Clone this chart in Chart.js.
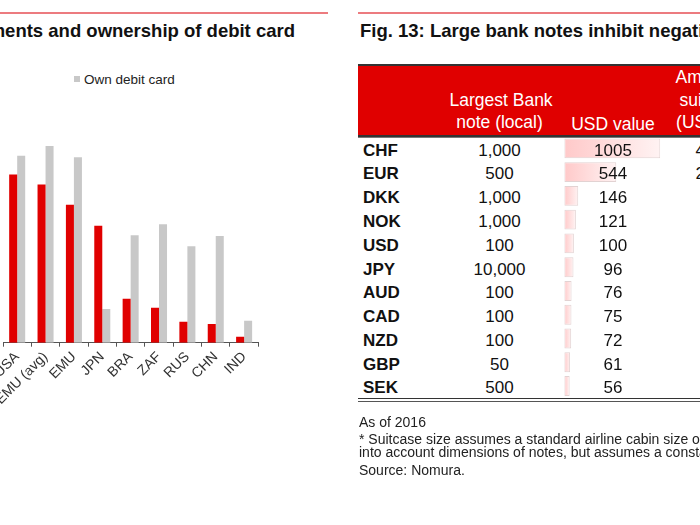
<!DOCTYPE html>
<html><head><meta charset="utf-8">
<script src="https://cdn.jsdelivr.net/npm/chart.js@4.4.1/dist/chart.umd.min.js"></script>
<style>
html,body{margin:0;padding:0;background:#fff;width:700px;height:525px;overflow:hidden;font-family:"Liberation Sans",Arial,sans-serif;}
.abs{position:absolute;white-space:nowrap;}
.hd{color:#fff;font-size:17.5px;line-height:23px;text-align:center;}
.cell{font-size:17px;line-height:24px;color:#111;}
.fn{font-size:14px;color:#222;line-height:16px;left:359px;}
</style></head><body>

<!-- left panel -->
<div class="abs" style="left:0;top:12px;width:328px;height:2px;background:#ec7b7f"></div>
<div class="abs" style="right:405px;top:20px;font:bold 18.5px 'Liberation Sans',Arial;line-height:22px;color:#111">Fig. 12: Card payments and ownership of debit card</div>
<div class="abs" style="left:74px;top:76px;width:6px;height:6px;background:#c8c8c8"></div>
<div class="abs" id="legGrey" style="left:84px;top:72px;font-size:13.5px;line-height:16px;color:#222"></div>
<div class="abs" style="left:-40px;top:0;width:370px;height:420px"><canvas id="barChart" width="370" height="420"></canvas></div>

<!-- right panel -->
<div class="abs" style="left:358px;top:12px;width:342px;height:2px;background:#ec7b7f"></div>
<div class="abs" style="left:360px;top:20px;font:bold 18.5px 'Liberation Sans',Arial;line-height:22px;color:#111">Fig. 13: Large bank notes inhibit negative rates</div>
<div class="abs" style="left:358px;top:64px;width:342px;height:2px;background:#333"></div>
<div class="abs" style="left:358px;top:66px;width:342px;height:68.5px;background:#e00000"></div>
<div class="abs" style="left:358px;top:134.5px;width:342px;height:2px;background:#333"></div>
<div class="abs" style="left:358px;top:137px;width:342px;height:1px;background:#777"></div>
<div id="hdr"></div>
<div id="rows"></div>
<div class="abs" style="left:560px;top:130px;width:110px;height:280px"><canvas id="dataBars" width="110" height="280"></canvas></div>
<div class="abs" style="left:358px;top:397.5px;width:342px;height:1.5px;background:#333"></div>
<div class="abs" style="left:358px;top:400.5px;width:342px;height:1px;background:#555"></div>
<div class="abs fn" style="top:413.7px">As of 2016</div>
<div class="abs fn" style="top:431px">* Suitcase size assumes a standard airline cabin size of 55x40x20cm. Does not take</div>
<div class="abs fn" style="top:443.7px">into account dimensions of notes, but assumes a constant note size.</div>
<div class="abs fn" style="top:462px">Source: Nomura.</div>

<script>
// ---------- Left chart data ----------
const countries = ["USA", "EMU (avg)", "EMU", "JPN", "BRA", "ZAF", "RUS", "CHN", "IND"];
const cardPayments = [76.5, 71.9, 62.7, 53.2, 20.0, 15.9, 9.5, 8.5, 2.7];
const ownDebitCard = [85.0, 89.4, 84.3, 15.3, 48.8, 53.8, 43.8, 48.5, 10.0];
const seriesNames = ["Card payments", "Own debit card"];

// ---------- Right table data ----------
const currencies = ["CHF", "EUR", "DKK", "NOK", "USD", "JPY", "AUD", "CAD", "NZD", "GBP", "SEK"];
const largestNote = ["1,000", "500", "1,000", "1,000", "100", "10,000", "100", "100", "100", "50", "500"];
const usdValue = [1005, 544, 146, 121, 100, 96, 76, 75, 72, 61, 56];
const suitcaseValue = ["40.2", "21.8", "5.8", "4.8", "4.0", "3.8", "3.0", "3.0", "2.9", "2.4", "2.2"];
const headerNote = ["Largest Bank", "note (local)"];
const headerUsd = "USD value";
const headerSuit = ["Amount in", "suitcase*", "(USD mn)"];

document.getElementById('legGrey').textContent = seriesNames[1];

// header and rows
(function(){
  let h = '';
  h += `<div class="abs hd" style="left:449.5px;width:100px;top:88.5px">${headerNote[0]}</div>`;
  h += `<div class="abs hd" style="left:449.5px;width:100px;top:111.2px">${headerNote[1]}</div>`;
  h += `<div class="abs hd" style="left:563px;width:100px;top:112.5px">${headerUsd}</div>`;
  const tops = [65.5, 88.5, 111.2];
  headerSuit.forEach((t,i)=>{ h += `<div class="abs hd" style="left:665px;width:100px;top:${tops[i]}px">${t}</div>`; });
  document.getElementById('hdr').innerHTML = h;
  let r = '';
  currencies.forEach((c,i)=>{
    const top = 150.7 + i*23.76 - 12;
    r += `<div class="abs cell" style="left:363px;top:${top}px;font-weight:bold">${c}</div>`;
    r += `<div class="abs cell" style="left:449.5px;width:100px;text-align:center;top:${top}px">${largestNote[i]}</div>`;
    r += `<div class="abs cell" style="left:563px;width:100px;text-align:center;top:${top}px;z-index:2">${usdValue[i]}</div>`;
    r += `<div class="abs cell" style="left:672px;width:80px;text-align:center;top:${top}px">${suitcaseValue[i]}</div>`;
  });
  document.getElementById('rows').innerHTML = r;
})();

// ---------- Left bar chart ----------
new Chart(document.getElementById('barChart'), {
  type: 'bar',
  data: {
    labels: countries,
    datasets: [
      { label: seriesNames[0], data: cardPayments, backgroundColor: '#e00000' },
      { label: seriesNames[1], data: ownDebitCard, backgroundColor: '#c8c8c8' }
    ]
  },
  options: {
    responsive: false,
    animation: false,
    layout: { padding: { left: 43, right: 71.7, top: 122.7, bottom: 0 } },
    datasets: { bar: { categoryPercentage: 0.565, barPercentage: 1.0 } },
    plugins: { legend: { display: false }, tooltip: { enabled: false } },
    scales: {
      x: {
        offset: true,
        grid: { offset: true, drawOnChartArea: false, drawTicks: true, tickLength: 4, color: '#555' },
        border: { display: true, color: '#555', width: 1 },
        ticks: {
          autoSkip: false, minRotation: 45, maxRotation: 45, padding: 2,
          color: '#333', font: { family: "'Liberation Sans', Arial", size: 14 }
        },
        afterFit(scale) { scale.height = 77.3; }
      },
      y: { display: false, min: 0, max: 100 }
    }
  }
});

// ---------- Data bars in table ----------
new Chart(document.getElementById('dataBars'), {
  type: 'bar',
  data: {
    labels: currencies,
    datasets: [{
      data: usdValue,
      backgroundColor: (ctx) => {
        const chart = ctx.chart;
        const { chartArea, scales } = chart;
        if (!chartArea || !scales.x) return '#ffd0d0';
        const x0 = scales.x.getPixelForValue(0);
        const x1 = scales.x.getPixelForValue(ctx.raw);
        const g = chart.ctx.createLinearGradient(x0, 0, Math.max(x1, x0 + 1), 0);
        g.addColorStop(0, '#ffc9c9');
        g.addColorStop(1, '#fff3f3');
        return g;
      },
      borderColor: '#e2d2d2',
      borderWidth: 1,
      borderSkipped: false
    }]
  },
  options: {
    indexAxis: 'y',
    responsive: false,
    animation: false,
    layout: { padding: { left: 4.3, right: 9.7, top: 6.5, bottom: 12.2 } },
    datasets: { bar: { categoryPercentage: 1.0, barPercentage: 0.84 } },
    plugins: { legend: { display: false }, tooltip: { enabled: false } },
    scales: {
      x: { display: false, min: 0, max: Math.max(...usdValue) },
      y: { display: false }
    }
  }
});
</script>
</body></html>
